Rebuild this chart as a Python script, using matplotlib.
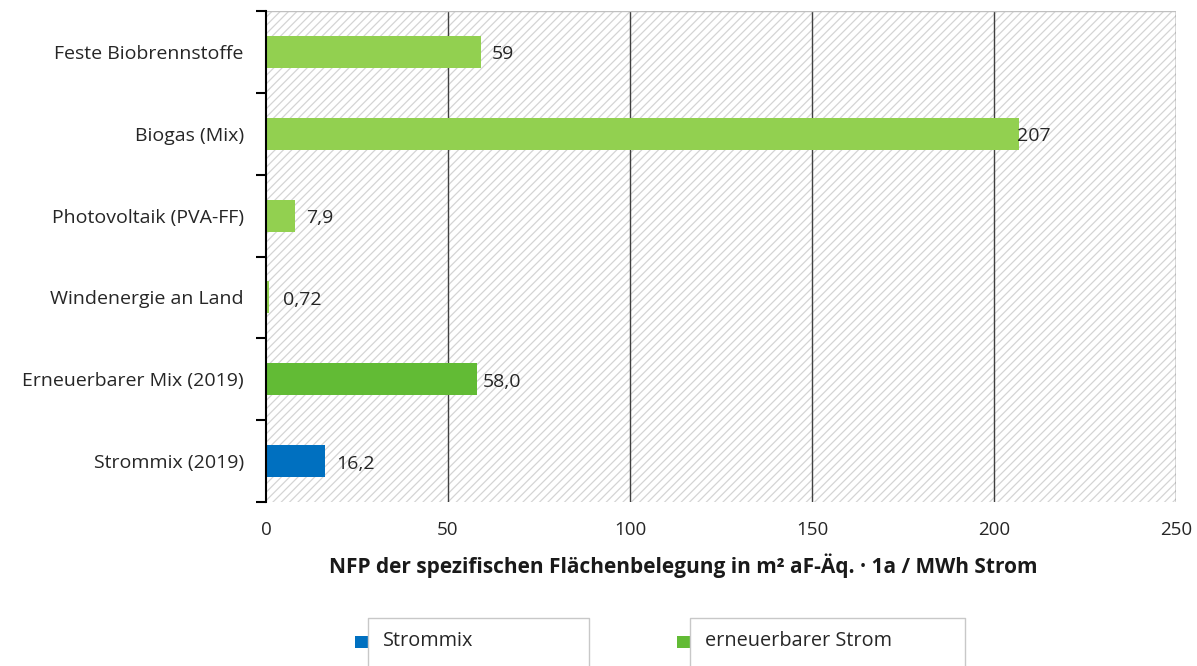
import matplotlib
matplotlib.use('Agg')
from matplotlib import pyplot as plt
from matplotlib.patches import Rectangle
import numpy as np

plt.rcParams['font.family'] = ['Open Sans', 'DejaVu Sans']
plt.rcParams['hatch.linewidth'] = 0.9
plt.rcParams['hatch.color'] = '#d4d4d4'

categories = ['Feste Biobrennstoffe', 'Biogas (Mix)', 'Photovoltaik (PVA-FF)',
              'Windenergie an Land', 'Erneuerbarer Mix (2019)', 'Strommix (2019)']
values = [59, 207, 7.9, 0.72, 58.0, 16.2]
value_labels = ['59', '207', '7,9', '0,72', '58,0', '16,2']
bar_colors = ['#92d050', '#92d050', '#92d050', '#92d050', '#62bb35', '#0070c0']
label_offsets = [3, -0.8, 3, 4, 1.5, 3]  # data units, how far the label sits from bar end
xticks = [0, 50, 100, 150, 200, 250]
legend_names = ['Strommix', 'erneuerbarer Strom']
legend_colors = ['#0070c0', '#62bb35']

W, H = 1197, 666
fig = plt.figure(figsize=(W/100, H/100), dpi=100)
ax = fig.add_axes([266/W, 1-502/H, (1176-266)/W, (502-11)/H])

y = np.arange(len(categories))

# hatched background
ax.add_patch(Rectangle((0, -0.5), 250, len(categories), facecolor='white',
                       edgecolor='#d4d4d4', hatch='////', lw=0, zorder=0))

for xv in xticks[1:]:
    ax.axvline(xv, color='#404040', lw=1.0, zorder=1)

ax.barh(y, values, height=0.39, color=bar_colors, zorder=2)

for yi, v, lab, off in zip(y, values, value_labels, label_offsets):
    ax.text(v + off, yi + 0.03, lab, va='center', ha='left', fontsize=14, color='#262626', zorder=3)

ax.set_xlim(0, 250)
ax.set_ylim(len(categories) - 0.5, -0.5)
ax.set_xticks(xticks)
ax.set_xticklabels([str(t) for t in xticks], fontsize=13.5)
ax.set_yticks(y)
ax.set_yticklabels(categories, fontsize=14, color='#262626')
ax.set_yticks(np.arange(len(categories) + 1) - 0.5, minor=True)
ax.tick_params(axis='y', which='major', length=0, pad=16)
ax.tick_params(axis='y', which='minor', length=7, width=1.5, color='black', direction='out')
ax.tick_params(axis='x', length=0, pad=14, labelcolor='#262626')

for s in ['top', 'right', 'bottom']:
    ax.spines[s].set_visible(False)
ax.spines['left'].set_color('black')
ax.spines['left'].set_linewidth(1.5)
ax.axhline(-0.5, color='#c0c0c0', lw=1.0, zorder=1)

ax.set_xlabel('NFP der spezifischen Flächenbelegung in m² aF-Äq. · 1a / MWh Strom',
              fontsize=15, fontweight='bold', labelpad=9, color='#1a1a1a')
ax.xaxis.set_label_coords((683-266)/(1176-266), -0.105)

# legend drawn like the original: square just left of an open box
leg_sq_x = [355, 677]
leg_box = [(368, 589), (690, 965)]
for nm, col, sx, (bx0, bx1) in zip(legend_names, legend_colors, leg_sq_x, leg_box):
    fig.patches.append(Rectangle((sx/W, 1-648/H), 13/W, 12/H, facecolor=col,
                                 edgecolor='none', transform=fig.transFigure))
    fig.lines.append(plt.Line2D([bx0/W, bx0/W, bx1/W, bx1/W],
                                [0, 1-618/H, 1-618/H, 0], color='#c8c8c8', lw=1,
                                transform=fig.transFigure))
    fig.text((bx0 + 15)/W, 1-641/H, nm, fontsize=14.3, va='center', ha='left', color='#262626')

fig.savefig('out.png', dpi=100)
